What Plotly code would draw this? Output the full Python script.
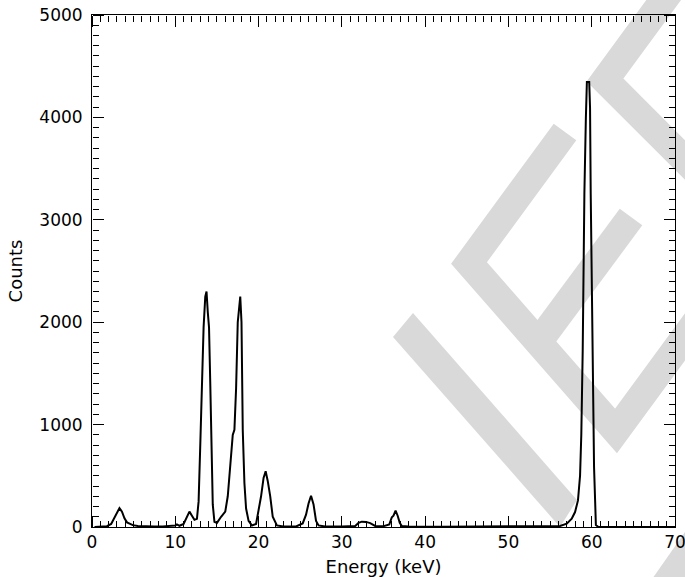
import plotly.graph_objects as go

# ---------------- data ----------------
energy_kev = [0.3, 1.0, 1.8, 2.3, 2.7, 3.0, 3.3, 3.6, 3.9, 4.2, 4.5, 4.9, 5.5, 6.5, 7.5, 8.5,
              9.5, 10.0, 10.2, 10.5, 11.0, 11.4, 11.7, 12.0, 12.3, 12.6, 12.8, 13.0, 13.2,
              13.4, 13.6, 13.75, 13.9, 14.05, 14.2, 14.35, 14.5, 14.7, 15.0, 15.5, 16.0,
              16.3, 16.6, 16.9, 17.1, 17.3, 17.5, 17.7, 17.8, 17.95, 18.1, 18.3, 18.5, 18.8,
              19.2, 19.7, 20.0, 20.3, 20.6, 20.85, 21.1, 21.4, 21.7, 22.2, 23.0, 24.5, 25.3,
              25.7, 26.0, 26.3, 26.6, 26.9, 27.2, 28.0, 30.0, 31.6, 32.0, 32.4, 32.9, 33.4,
              34.0, 35.0, 35.7, 36.0, 36.2, 36.45, 36.7, 36.95, 37.2, 38.0, 42.0, 46.0, 50.0,
              54.0, 56.2, 57.0, 57.6, 58.0, 58.35, 58.6, 58.75, 58.92, 59.0, 59.12, 59.3,
              59.42, 59.7, 59.8, 59.88, 60.0, 60.12, 60.28, 60.5, 60.8, 62.0, 66.0, 70.0]
counts = [0, 5, 8, 30, 90, 150, 185, 150, 85, 45, 30, 18, 10, 6, 5, 6,
          8, 15, 25, 12, 30, 100, 150, 110, 70, 80, 250, 800, 1400,
          1950, 2250, 2300, 2100, 1950, 1400, 700, 220, 50, 40, 100, 150,
          300, 650, 900, 950, 1350, 2000, 2200, 2250, 2000, 950, 430, 180, 60,
          15, 30, 150, 300, 480, 545, 450, 300, 100, 15, 5, 5, 35,
          120, 230, 305, 220, 60, 15, 5, 5, 10, 40, 52, 50, 38,
          10, 8, 25, 95, 110, 160, 110, 40, 10, 5, 3, 3, 5,
          5, 10, 32, 81, 146, 260, 500, 900, 1730, 2440, 3260, 4000,
          4345, 4345, 4090, 3260, 2380, 1400, 585, 20, 0, 0, 0, 0]

x_ticks = [0, 10, 20, 30, 40, 50, 60, 70]
y_ticks = [0, 1000, 2000, 3000, 4000, 5000]
x_minor_step = 1
y_minor_step = 100

# ---------------- layout geometry ----------------
W, H = 685, 577
ML, MR, MT, MB = 92, 10, 15, 50
PW, PH = W - ML - MR, H - MT - MB


def P(px, py):
    return (px - ML) / PW, (H - MB - py) / PH


def path(points, close=False):
    s = ""
    for i, (px, py) in enumerate(points):
        x, y = P(px, py)
        s += ("M" if i == 0 else "L") + f"{x:.5f},{y:.5f} "
    if close:
        s += "Z"
    return s


WM = "#d9d9d9"
shapes = [
    dict(type="path", xref="paper", yref="paper", layer="below",
         path=path([(565, 132), (469, 263), (616, 431), (712, 300)]),
         line=dict(color=WM, width=28)),
    dict(type="path", xref="paper", yref="paper", layer="below",
         path=path([(631, 217), (540, 340)]),
         line=dict(color=WM, width=28)),
    dict(type="path", xref="paper", yref="paper", layer="below",
         path=path([(682, -25), (605, 80), (720, 195)]),
         line=dict(color=WM, width=28)),
    dict(type="path", xref="paper", yref="paper", layer="below",
         path=path([(393, 337), (413, 313), (577, 500), (560, 527)], close=True),
         fillcolor=WM, line=dict(width=0)),
    dict(type="path", xref="paper", yref="paper", layer="below",
         path=path([(650, 582), (690, 525), (690, 582)], close=True),
         fillcolor=WM, line=dict(width=0)),
]

fig = go.Figure()
fig.add_trace(go.Scatter(x=energy_kev, y=counts, mode="lines",
                         line=dict(color="black", width=2),
                         showlegend=False, hoverinfo="skip"))
# empty traces so that the tick-only overlay axes get drawn
for xa, ya in (("x2", "y"), ("x3", "y"), ("x", "y2"), ("x", "y3")):
    fig.add_trace(go.Scatter(x=[], y=[], xaxis=xa, yaxis=ya, mode="lines",
                             showlegend=False, hoverinfo="skip"))

font = dict(family="DejaVu Sans", size=17, color="black")
title_font = dict(family="DejaVu Sans", size=18, color="black")
xr = [x_ticks[0], x_ticks[-1]]
yr = [y_ticks[0], y_ticks[-1]]


def tick_axis(rng, t0, dt, mdt, side, pos, over):
    return dict(range=rng, tickmode="linear", tick0=t0, dtick=dt, automargin=False,
                overlaying=over, anchor="free", position=pos, side=side,
                showline=False, showgrid=False, zeroline=False, showticklabels=False,
                ticks="outside", ticklen=11, tickwidth=1, tickcolor="black",
                minor=dict(tickmode="linear", dtick=mdt, ticks="outside", ticklen=6,
                           tickwidth=1, tickcolor="black", showgrid=False))


fig.update_layout(
    width=W, height=H, autosize=False,
    margin=dict(l=ML, r=MR, t=MT, b=MB, pad=0, autoexpand=False),
    paper_bgcolor="white", plot_bgcolor="rgba(0,0,0,0)",
    shapes=shapes,
    xaxis=dict(range=xr, tickmode="linear", tick0=x_ticks[0], dtick=x_ticks[1] - x_ticks[0],
               showline=True, linecolor="black", linewidth=1, mirror=True, ticks="",
               showgrid=False, zeroline=False, tickfont=font, automargin=False,
               ticklabeloverflow="allow",
               title=dict(text="Energy (keV)", font=title_font, standoff=8)),
    yaxis=dict(range=yr, tickmode="linear", tick0=y_ticks[0], dtick=y_ticks[1] - y_ticks[0],
               showline=True, linecolor="black", linewidth=1, mirror=True, ticks="",
               showgrid=False, zeroline=False, tickfont=font, ticklabelstandoff=5,
               automargin=False, ticklabeloverflow="allow",
               title=dict(text="Counts", font=title_font, standoff=12)),
    xaxis2=tick_axis(xr, x_ticks[0], x_ticks[1] - x_ticks[0], x_minor_step, "top", 0, "x"),
    xaxis3=tick_axis(xr, x_ticks[0], x_ticks[1] - x_ticks[0], x_minor_step, "bottom", 1, "x"),
    yaxis2=tick_axis(yr, y_ticks[0], y_ticks[1] - y_ticks[0], y_minor_step, "right", 0, "y"),
    yaxis3=tick_axis(yr, y_ticks[0], y_ticks[1] - y_ticks[0], y_minor_step, "left", 1, "y"),
)

fig.write_html("out.html")
